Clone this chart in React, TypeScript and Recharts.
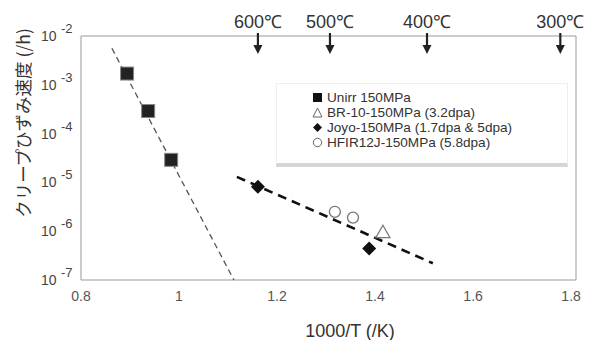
import React from 'react';
import { ScatterChart, Scatter, XAxis, YAxis, ReferenceArea } from 'recharts';

// 1000/T (/K) vs creep rate (/h)
const unirrX = [0.894, 0.937, 0.984];
const unirrY = [1.7e-3, 2.9e-4, 2.9e-5];
const br10X = [1.416];
const br10Y = [9.5e-7];
const joyoX = [1.161, 1.388];
const joyoY = [8.1e-6, 4.4e-7];
const hfirX = [1.318, 1.355];
const hfirY = [2.5e-6, 1.9e-6];

// dashed fit lines
const fit1X = [0.863, 1.112];
const fit1Y = [5.6e-3, 1e-7];
const fit2X = [1.118, 1.518];
const fit2Y = [1.3e-5, 2.2e-7];

// temperature marks on the top edge
const tempLabels = ['600℃', '500℃', '400℃', '300℃'];
const tempX = [1.161, 1.308, 1.506, 1.778];

const xTicks = [0.8, 1, 1.2, 1.4, 1.6, 1.8];
const yTicks = [1e-7, 1e-6, 1e-5, 1e-4, 1e-3, 1e-2];
const yExp = ['-7', '-6', '-5', '-4', '-3', '-2'];

const legendNames = [
  'Unirr 150MPa',
  'BR-10-150MPa (3.2dpa)',
  'Joyo-150MPa (1.7dpa & 5dpa)',
  'HFIR12J-150MPa (5.8dpa)',
];

const pts = (xs: number[], ys: number[]) => xs.map((x, i) => ({ x, y: ys[i] }));
const tempData = tempX.map((x, i) => ({ x, y: 1e-2, label: tempLabels[i] }));

const FONT = '"Liberation Sans", Arial, sans-serif';

const Square = ({ cx, cy, s = 13 }: any) => (
  <rect x={cx - s / 2} y={cy - s / 2} width={s} height={s} fill="#222" stroke="#888" strokeWidth={1} />
);
const Diamond = ({ cx, cy, s = 7 }: any) => (
  <polygon points={`${cx},${cy - s} ${cx + s},${cy} ${cx},${cy + s} ${cx - s},${cy}`} fill="#111" />
);
const Ring = ({ cx, cy, r = 5.5 }: any) => (
  <circle cx={cx} cy={cy} r={r} fill="#fff" stroke="#777" strokeWidth={1.3} />
);
const Tri = ({ cx, cy, s = 7 }: any) => (
  <polygon
    points={`${cx},${cy - s} ${cx - s},${cy + s * 0.75} ${cx + s},${cy + s * 0.75}`}
    fill="#fff"
    stroke="#777"
    strokeWidth={1.3}
  />
);
const None = () => <g />;

const Arrow = ({ cx, cy, payload }: any) => (
  <g>
    <text x={cx} y={cy - 8} textAnchor="middle" fontSize={18} fill="#333" fontFamily={FONT}>
      {payload.label}
    </text>
    <line x1={cx} y1={cy - 3} x2={cx} y2={cy + 12} stroke="#222" strokeWidth={2.2} />
    <polygon points={`${cx - 4.5},${cy + 9} ${cx + 4.5},${cy + 9} ${cx},${cy + 18}`} fill="#222" />
  </g>
);

const XTick = ({ x, y, payload }: any) => (
  <text x={x} y={y + 19} textAnchor="middle" fontSize={14} fill="#555" fontFamily={FONT}>
    {payload.value}
  </text>
);

const YTick = ({ y, payload }: any) => {
  const i = yTicks.indexOf(payload.value);
  return (
    <g fill="#444" fontFamily={FONT}>
      <text x={41} y={y + 5} fontSize={14}>10</text>
      <text x={61} y={y - 3} fontSize={13}>{yExp[i]}</text>
    </g>
  );
};

const legendShapes = [
  <rect x={1} y={1} width={9} height={9} fill="#111" />,
  <polygon points="5.5,1 10,10 1,10" fill="#fff" stroke="#666" strokeWidth={1} />,
  <polygon points="5.5,1 10,5.5 5.5,10 1,5.5" fill="#111" />,
  <circle cx={5.5} cy={5.5} r={4.2} fill="#fff" stroke="#666" strokeWidth={1} />,
];

export default function App() {
  return (
    <div style={{ position: 'absolute', left: 0, top: 0, width: 600, height: 340, background: '#fff', fontFamily: FONT }}>
      <ScatterChart width={600} height={340} margin={{ top: 36, right: 24, bottom: 0, left: 0 }}>
        <XAxis
          type="number"
          dataKey="x"
          domain={[0.8, 1.81]}
          ticks={xTicks}
          tick={<XTick />}
          tickLine={false}
          axisLine={false}
          tickSize={0}
          height={60}
        />
        <YAxis
          type="number"
          dataKey="y"
          scale="log"
          domain={[1e-7, 1e-2]}
          ticks={yTicks}
          tick={<YTick />}
          tickLine={false}
          axisLine={false}
          tickSize={0}
          width={81}
        />
        <ReferenceArea x1={0.8} x2={1.81} y1={1e-7} y2={1e-2} fill="none" stroke="#999" strokeWidth={1} />
        <Scatter
          data={pts(fit1X, fit1Y)}
          line={{ stroke: '#555', strokeWidth: 1.3, strokeDasharray: '6 4' }}
          shape={<None />}
          isAnimationActive={false}
        />
        <Scatter
          data={pts(fit2X, fit2Y)}
          line={{ stroke: '#111', strokeWidth: 2.6, strokeDasharray: '9 6' }}
          shape={<None />}
          isAnimationActive={false}
        />
        <Scatter name={legendNames[0]} data={pts(unirrX, unirrY)} shape={<Square />} isAnimationActive={false} />
        <Scatter name={legendNames[1]} data={pts(br10X, br10Y)} shape={<Tri />} isAnimationActive={false} />
        <Scatter name={legendNames[2]} data={pts(joyoX, joyoY)} shape={<Diamond />} isAnimationActive={false} />
        <Scatter name={legendNames[3]} data={pts(hfirX, hfirY)} shape={<Ring />} isAnimationActive={false} />
        <Scatter data={tempData} shape={<Arrow />} isAnimationActive={false} />
      </ScatterChart>

      <div
        style={{
          position: 'absolute',
          left: 276,
          top: 83,
          width: 292,
          height: 84,
          background: '#fff',
          border: '1px solid #eee',
          borderBottom: '4px solid #d6d6d6',
          boxSizing: 'border-box',
          padding: '6px 0 0 35px',
        }}
      >
        {legendNames.map((n, i) => (
          <div key={n} style={{ display: 'flex', alignItems: 'center', height: 15, fontSize: 13.6, color: '#333' }}>
            <svg width={11} height={11} style={{ marginRight: 4 }}>
              {legendShapes[i]}
            </svg>
            {n}
          </div>
        ))}
      </div>

      <div
        style={{
          position: 'absolute',
          left: 22,
          top: 123,
          transform: 'translate(-50%, -50%) rotate(-90deg)',
          whiteSpace: 'nowrap',
          fontSize: 17.5,
          color: '#333',
          fontFamily: '"Noto Sans CJK JP", sans-serif',
        }}
      >
        クリープひずみ速度 (/h)
      </div>
      <div
        style={{
          position: 'absolute',
          left: 350,
          top: 331,
          transform: 'translate(-50%, -50%)',
          whiteSpace: 'nowrap',
          fontSize: 18,
          color: '#333',
        }}
      >
        1000/T (/K)
      </div>
    </div>
  );
}
